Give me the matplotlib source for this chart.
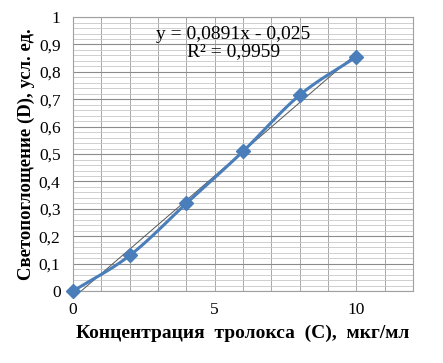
import numpy as np
import matplotlib.pyplot as plt
from matplotlib.ticker import MultipleLocator, FuncFormatter

conc = [0, 2, 4, 6, 8, 10]
absorb = [0.0, 0.13, 0.32, 0.51, 0.715, 0.855]
slope = 0.0891
intercept = -0.025

plt.rcParams['font.family'] = ['Liberation Serif', 'DejaVu Serif']


def catmull_rom(x, y, n=20):
    # smoothed line through the points, like Excel's smooth scatter
    x = np.asarray(x, float)
    y = np.asarray(y, float)
    px = np.concatenate([[2 * x[0] - x[1]], x, [2 * x[-1] - x[-2]]])
    py = np.concatenate([[2 * y[0] - y[1]], y, [2 * y[-1] - y[-2]]])
    xs, ys = [], []
    for i in range(1, len(px) - 2):
        t = np.linspace(0, 1, n)
        for p, out in ((px, xs), (py, ys)):
            p0, p1, p2, p3 = p[i - 1], p[i], p[i + 1], p[i + 2]
            out.append(0.5 * ((2 * p1) + (-p0 + p2) * t
                              + (2 * p0 - 5 * p1 + 4 * p2 - p3) * t ** 2
                              + (-p0 + 3 * p1 - 3 * p2 + p3) * t ** 3))
    return np.concatenate(xs), np.concatenate(ys)


def ytick(v, p):
    if abs(v) < 1e-9:
        return "0"
    if abs(v - 1) < 1e-9:
        return "1"
    return f"{v:.1f}".replace('.', ',')


fig = plt.figure(figsize=(4.43, 3.63), dpi=100)
ax = fig.add_axes([0.165, 0.198, 0.767, 0.755])

ax.set_xlim(0, 12)
ax.set_ylim(0, 1)
ax.xaxis.set_major_locator(MultipleLocator(5))
ax.xaxis.set_minor_locator(MultipleLocator(1))
ax.yaxis.set_major_locator(MultipleLocator(0.1))
ax.yaxis.set_minor_locator(MultipleLocator(0.02))
ax.yaxis.set_major_formatter(FuncFormatter(ytick))
ax.xaxis.set_major_formatter(FuncFormatter(lambda v, p: f"{v:.0f}"))

ax.grid(which='major', axis='y', color='#8c8c8c', linewidth=0.8)
ax.grid(which='minor', axis='y', color='#c8c8c8', linewidth=0.6)
ax.grid(which='both', axis='x', color='#a8a8a8', linewidth=0.7)
ax.tick_params(which='both', length=0, labelsize=12.5)
ax.tick_params(axis='y', pad=9)
ax.tick_params(axis='x', pad=8)
for s in ax.spines.values():
    s.set_color('#a0a0a0')
    s.set_linewidth(0.8)
ax.set_axisbelow(True)

xt = np.array([-intercept / slope, 10])
ax.plot(xt, slope * xt + intercept, color='#555555', linewidth=0.7, zorder=3)

sx, sy = catmull_rom(conc, absorb)
ax.plot(sx, sy, color='#4a7ebb', linewidth=2.2, zorder=4)
ax.plot(conc, absorb, linestyle='none', marker='D', markersize=7.5,
        color='#4a7ebb', zorder=5, clip_on=False)

ax.text(5.65, 0.905, "y = 0,0891x - 0,025\nR² = 0,9959", ha='center', va='center',
        fontsize=14, linespacing=1.0)

ax.set_xlabel("Концентрация  тролокса  (С),  мкг/мл", fontsize=14,
              fontweight='bold', labelpad=5)
ax.set_ylabel("Светопоглощение (D), усл. ед.", fontsize=13.5,
              fontweight='bold', labelpad=3)

fig.savefig("out.png", dpi=100)
